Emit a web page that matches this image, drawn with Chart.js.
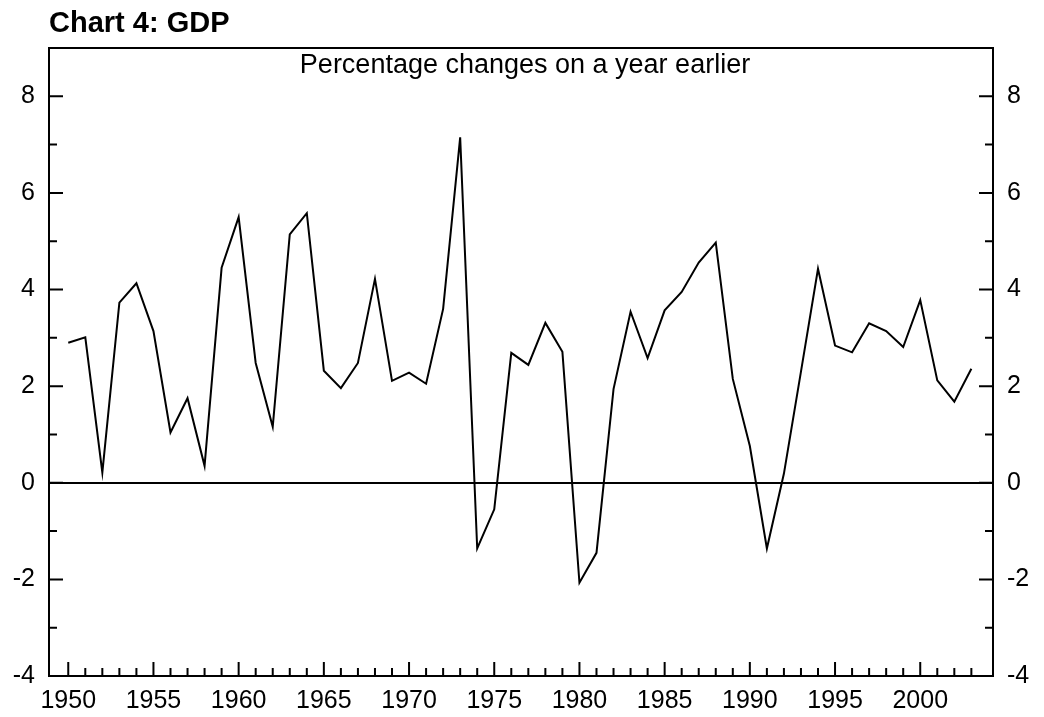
<!DOCTYPE html>
<html>
<head>
<meta charset="utf-8">
<title>Chart 4: GDP</title>
<script src="https://cdn.jsdelivr.net/npm/chart.js@4.4.1/dist/chart.umd.min.js"></script>
<style>
  html, body { margin: 0; padding: 0; background: #fff; }
  canvas { display: block; }
</style>
</head>
<body>
<canvas id="gdp-chart" width="1044" height="717"></canvas>
<script>
// Annual GDP growth, percentage change on a year earlier
const years = [
    1950, 1951, 1952, 1953, 1954, 1955, 1956, 1957, 1958, 1959,
    1960, 1961, 1962, 1963, 1964, 1965, 1966, 1967, 1968, 1969,
    1970, 1971, 1972, 1973, 1974, 1975, 1976, 1977, 1978, 1979,
    1980, 1981, 1982, 1983, 1984, 1985, 1986, 1987, 1988, 1989,
    1990, 1991, 1992, 1993, 1994, 1995, 1996, 1997, 1998, 1999,
    2000, 2001, 2002, 2003
];
const gdpGrowth = [
    2.90, 3.01, 0.21, 3.73, 4.13, 3.14, 1.04, 1.75, 0.35, 4.45,
    5.50, 2.48, 1.16, 5.14, 5.58, 2.32, 1.96, 2.48, 4.22, 2.11,
    2.28, 2.05, 3.60, 7.15, -1.36, -0.55, 2.69, 2.44, 3.31, 2.71,
    -2.07, -1.45, 1.94, 3.54, 2.58, 3.57, 3.95, 4.56, 4.97, 2.15,
    0.76, -1.36, 0.19, 2.30, 4.43, 2.84, 2.70, 3.30, 3.14, 2.81,
    3.78, 2.12, 1.68, 2.36
];
const yTickLabels = [-4, -2, 0, 2, 4, 6, 8];
const xTickLabels = [1950, 1955, 1960, 1965, 1970, 1975, 1980, 1985, 1990, 1995, 2000];

const titleText = 'Chart 4: GDP';
const subtitleText = 'Percentage changes on a year earlier';
const fontFamily = '"Liberation Sans", Arial, Helvetica, sans-serif';

// Frame, inward tick marks and the in-plot subtitle
const frameAndTicks = {
    id: 'frameAndTicks',
    afterDatasetsDraw(chart) {
        const { ctx, chartArea: a, scales } = chart;
        const first = years[0];
        const last = years[years.length - 1];
        ctx.save();
        ctx.strokeStyle = '#000';
        ctx.lineWidth = 2;
        ctx.strokeRect(a.left, a.top, a.right - a.left, a.bottom - a.top);

        ctx.beginPath();
        scales.x.ticks.forEach(t => {
            if (t.value < first || t.value > last) return;
            const px = scales.x.getPixelForValue(t.value);
            const len = xTickLabels.includes(t.value) ? 14 : 8;
            ctx.moveTo(px, a.bottom);
            ctx.lineTo(px, a.bottom - len);
        });
        scales.y.ticks.forEach(t => {
            const py = scales.y.getPixelForValue(t.value);
            const len = yTickLabels.includes(t.value) ? 14 : 8;
            ctx.moveTo(a.left, py);
            ctx.lineTo(a.left + len, py);
            ctx.moveTo(a.right, py);
            ctx.lineTo(a.right - len, py);
        });
        ctx.stroke();

        ctx.fillStyle = '#000';
        ctx.font = '27px ' + fontFamily;
        ctx.textAlign = 'center';
        ctx.textBaseline = 'alphabetic';
        ctx.fillText(subtitleText, (a.left + a.right) / 2 + 4, a.top + 25);
        ctx.restore();
    }
};

const yLabel = v => (yTickLabels.includes(v) ? String(v) : '');

const chart = new Chart(document.getElementById('gdp-chart'), {
    type: 'line',
    data: {
        datasets: [{
            label: 'GDP',
            data: years.map((yr, i) => ({ x: yr, y: gdpGrowth[i] })),
            borderColor: '#000',
            borderWidth: 2,
            pointRadius: 0,
            tension: 0,
            fill: false
        }]
    },
    options: {
        responsive: false,
        animation: false,
        layout: { padding: 0 },
        plugins: {
            legend: { display: false },
            tooltip: { enabled: false },
            title: {
                display: true,
                text: titleText,
                align: 'start',
                fullSize: false,
                color: '#000',
                font: { family: fontFamily, size: 29, weight: 'bold' },
                padding: { top: 7, bottom: 6.2 }
            }
        },
        scales: {
            x: {
                type: 'linear',
                position: 'bottom',
                min: 1948.87,
                max: 2004.27,
                afterFit(scale) { scale.height = 41; },
                border: { display: false },
                grid: { display: false, drawTicks: false },
                ticks: {
                    stepSize: 1,
                    maxTicksLimit: 200,
                    includeBounds: false,
                    autoSkip: false,
                    maxRotation: 0,
                    minRotation: 0,
                    padding: 10,
                    color: '#000',
                    font: { family: fontFamily, size: 25 },
                    callback: v => (xTickLabels.includes(v) ? String(v) : '')
                }
            },
            y: {
                position: 'left',
                min: -4,
                max: 9,
                afterFit(scale) { scale.width = 49; },
                border: { display: false },
                grid: {
                    drawTicks: false,
                    lineWidth: 2,
                    color: c => (c.tick && c.tick.value === 0 ? '#000' : 'rgba(0,0,0,0)')
                },
                ticks: {
                    stepSize: 1,
                    maxTicksLimit: 200,
                    padding: 14,
                    color: '#000',
                    font: { family: fontFamily, size: 25 },
                    callback: yLabel
                }
            },
            y2: {
                position: 'right',
                min: -4,
                max: 9,
                afterFit(scale) { scale.width = 51; },
                border: { display: false },
                grid: { display: false, drawTicks: false },
                ticks: {
                    stepSize: 1,
                    maxTicksLimit: 200,
                    padding: 14,
                    color: '#000',
                    font: { family: fontFamily, size: 25 },
                    callback: yLabel
                }
            }
        }
    },
    plugins: [frameAndTicks]
});
</script>
</body>
</html>
